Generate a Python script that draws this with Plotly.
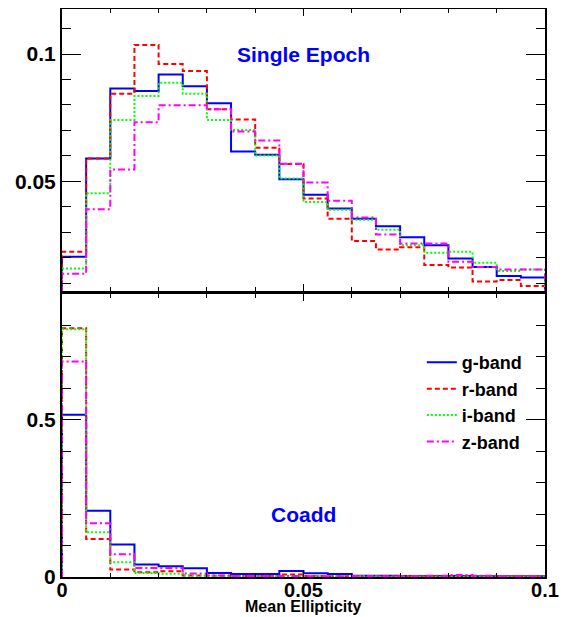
import plotly.graph_objects as go

# Histogrammgrenzen (Mean Ellipticity), 20 Bins
bin_edges = [0.0, 0.005, 0.01, 0.015, 0.02, 0.025, 0.03, 0.035, 0.04, 0.045, 0.05,
             0.055, 0.06, 0.065, 0.07, 0.075, 0.08, 0.085, 0.09, 0.095, 0.1]

# Single Epoch
g_single = [0.0204, 0.0590, 0.0865, 0.0855, 0.0920, 0.0873, 0.0807, 0.0617, 0.0604, 0.0508,
            0.0447, 0.0393, 0.0353, 0.0323, 0.0280, 0.0249, 0.0197, 0.0163, 0.0128, 0.0122]
r_single = [0.0223, 0.0590, 0.0844, 0.1036, 0.0961, 0.0933, 0.0783, 0.0743, 0.0632, 0.0568,
            0.0432, 0.0353, 0.0265, 0.0232, 0.0241, 0.0171, 0.0161, 0.0106, 0.0112, 0.0089]
i_single = [0.0157, 0.0453, 0.0741, 0.0835, 0.0887, 0.0844, 0.0741, 0.0702, 0.0601, 0.0511,
            0.0419, 0.0388, 0.0349, 0.0310, 0.0249, 0.0219, 0.0223, 0.0180, 0.0148, 0.0154]
z_single = [0.0137, 0.0390, 0.0546, 0.0732, 0.0799, 0.0799, 0.0783, 0.0696, 0.0660, 0.0569,
            0.0495, 0.0424, 0.0358, 0.0291, 0.0256, 0.0256, 0.0184, 0.0163, 0.0154, 0.0154]

# Coadd
g_coadd = [0.516, 0.211, 0.103, 0.040, 0.034, 0.0275, 0.0127, 0.0095, 0.0095, 0.019,
           0.0116, 0.0095, 0.004, 0.004, 0.003, 0.003, 0.003, 0.002, 0.002, 0.002]
r_coadd = [0.791, 0.121, 0.024, 0.015, 0.018, 0.005, 0.004, 0.003, 0.003, 0.008,
           0.003, 0.002, 0.002, 0.002, 0.002, 0.002, 0.002, 0.002, 0.001, 0.001]
i_coadd = [0.788, 0.142, 0.047, 0.013, 0.010, 0.004, 0.003, 0.002, 0.002, 0.002,
           0.002, 0.002, 0.002, 0.001, 0.001, 0.001, 0.001, 0.001, 0.001, 0.001]
z_coadd = [0.685, 0.171, 0.072, 0.029, 0.029, 0.011, 0.005, 0.003, 0.003, 0.003,
           0.002, 0.002, 0.002, 0.002, 0.003, 0.004, 0.006, 0.004, 0.002, 0.002]

band_names = ["g-band", "r-band", "i-band", "z-band"]
band_colors = ["#0000ff", "#ff0000", "#00ff00", "#ff00ff"]
band_dash = ["solid", "5px,3px", "2px,2px", "7px,3px,2px,3px"]


def step_xy(values):
    # Histogramm-Umriss wie in ROOT: senkrecht hoch bei 0, runter bei 0.1
    xs = [bin_edges[0]] + bin_edges[:-1] + [bin_edges[-1]]
    ys = [0] + list(values) + [0]
    return xs, ys


fig = go.Figure()

single = [g_single, r_single, i_single, z_single]
coadd = [g_coadd, r_coadd, i_coadd, z_coadd]

for k in range(4):
    xs, ys = step_xy(single[k])
    fig.add_trace(go.Scatter(x=xs, y=ys, mode="lines", line_shape="hv",
                             line=dict(color=band_colors[k], width=2, dash=band_dash[k]),
                             xaxis="x2", yaxis="y2", showlegend=False, hoverinfo="skip"))
for k in range(4):
    xs, ys = step_xy(coadd[k])
    fig.add_trace(go.Scatter(x=xs, y=ys, mode="lines", line_shape="hv", name=band_names[k],
                             legendgroup=band_names[k],
                             line=dict(color=band_colors[k], width=2, dash=band_dash[k]),
                             xaxis="x", yaxis="y", hoverinfo="skip"))

bold = dict(family="Liberation Sans", size=21, color="black", weight="bold")
common_x = dict(range=[0, 0.1], showline=True, linewidth=2, linecolor="black", mirror="allticks",
                ticks="inside", ticklen=7, tickwidth=1, tickcolor="black", automargin=False,
                tickvals=[0, 0.05, 0.1], showgrid=False, zeroline=False,
                minor=dict(dtick=0.01, tick0=0, ticks="inside", ticklen=4, tickcolor="black", showgrid=False))
common_y = dict(showline=True, linewidth=2, linecolor="black", mirror="allticks",
                ticks="inside", ticklen=19, tickwidth=1, tickcolor="black", automargin=False,
                showgrid=False, zeroline=False, tickfont=bold)

fig.update_layout(
    width=566, height=609,
    margin=dict(l=54, r=29, t=1, b=40),
    plot_bgcolor="white", paper_bgcolor="white",
    xaxis=dict(common_x, anchor="y", domain=[0, 1],
               ticktext=["0", "0.05", "0.1"], ticklabelstandoff=-6,
               tickfont=dict(family="Liberation Sans", size=20, color="black", weight="bold")),
    xaxis2=dict(common_x, anchor="y2", matches="x", showticklabels=False),
    yaxis=dict(common_y, domain=[0, 0.4982], range=[0, 0.9],
               tickvals=[0, 0.5], ticktext=["0", "0.5"],
               minor=dict(dtick=0.1, tick0=0, ticks="inside", ticklen=9, tickcolor="black", showgrid=False)),
    yaxis2=dict(common_y, domain=[0.5044, 1], range=[0.0071, 0.1177],
                tickvals=[0.05, 0.1], ticktext=["0.05", "0.1"],
                minor=dict(dtick=0.01, tick0=0, ticks="inside", ticklen=9, tickcolor="black", showgrid=False)),
    legend=dict(x=0.745, y=0.41, xanchor="left", yanchor="top", bgcolor="rgba(0,0,0,0)",
                font=dict(family="Liberation Sans", size=18, color="black", weight="bold"),
                tracegroupgap=0),
    annotations=[
        dict(text="Single Epoch", x=0.05, y=0.1, xref="x2", yref="y2", showarrow=False,
             font=dict(family="Liberation Sans", size=21, color="#0000ff", weight="bold")),
        dict(text="Coadd", x=0.05, y=0.2, xref="x", yref="y", showarrow=False,
             font=dict(family="Liberation Sans", size=21, color="#0000ff", weight="bold")),
        dict(text="Mean Ellipticity", x=0.5, y=-0.0685, xref="paper", yref="paper",
             yanchor="bottom", showarrow=False, borderpad=0,
             font=dict(family="Liberation Sans", size=16, color="black", weight="bold")),
    ],
)

fig.write_html("out.html")
